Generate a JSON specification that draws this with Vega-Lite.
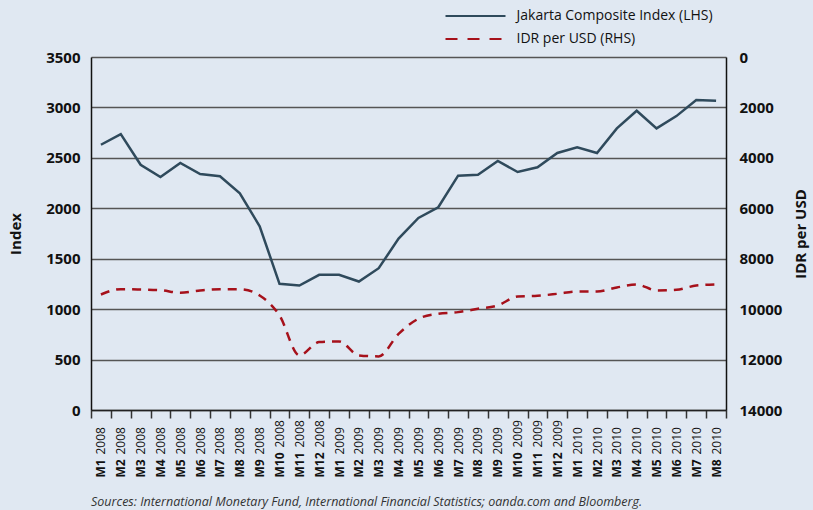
{
  "$schema": "https://vega.github.io/schema/vega-lite/v6.json",
  "width": 635,
  "height": 353,
  "autosize": "none",
  "padding": {"left": 91, "top": 57, "right": 87, "bottom": 100},
  "background": "#e0e8f2",
  "config": {"view": {"stroke": null}, "font": "Open Sans"},
  "title": {
    "text": "Sources: International Monetary Fund, International Financial Statistics; oanda.com and Bloomberg.",
    "orient": "bottom",
    "anchor": "start",
    "frame": "group",
    "fontSize": 12.5,
    "fontStyle": "italic",
    "fontWeight": "normal",
    "color": "#333333",
    "offset": 19
  },
  "data": {
    "values": [
      {"month": "M1 2008", "jci": 2630, "idr": 9418},
      {"month": "M2 2008", "jci": 2736, "idr": 9207},
      {"month": "M3 2008", "jci": 2432, "idr": 9220},
      {"month": "M4 2008", "jci": 2310, "idr": 9247},
      {"month": "M5 2008", "jci": 2449, "idr": 9352},
      {"month": "M6 2008", "jci": 2340, "idr": 9260},
      {"month": "M7 2008", "jci": 2317, "idr": 9207},
      {"month": "M8 2008", "jci": 2149, "idr": 9207},
      {"month": "M9 2008", "jci": 1822, "idr": 9458},
      {"month": "M10 2008", "jci": 1251, "idr": 10250},
      {"month": "M11 2008", "jci": 1234, "idr": 11834},
      {"month": "M12 2008", "jci": 1340, "idr": 11306},
      {"month": "M1 2009", "jci": 1340, "idr": 11280},
      {"month": "M2 2009", "jci": 1274, "idr": 11834},
      {"month": "M3 2009", "jci": 1406, "idr": 11874},
      {"month": "M4 2009", "jci": 1700, "idr": 10980},
      {"month": "M5 2009", "jci": 1904, "idr": 10382},
      {"month": "M6 2009", "jci": 2010, "idr": 10184},
      {"month": "M7 2009", "jci": 2323, "idr": 10118},
      {"month": "M8 2009", "jci": 2333, "idr": 9986},
      {"month": "M9 2009", "jci": 2469, "idr": 9854},
      {"month": "M10 2009", "jci": 2360, "idr": 9498},
      {"month": "M11 2009", "jci": 2406, "idr": 9471},
      {"month": "M12 2009", "jci": 2548, "idr": 9392},
      {"month": "M1 2010", "jci": 2604, "idr": 9300},
      {"month": "M2 2010", "jci": 2548, "idr": 9300},
      {"month": "M3 2010", "jci": 2792, "idr": 9141},
      {"month": "M4 2010", "jci": 2967, "idr": 9022},
      {"month": "M5 2010", "jci": 2792, "idr": 9260},
      {"month": "M6 2010", "jci": 2914, "idr": 9234},
      {"month": "M7 2010", "jci": 3073, "idr": 9062},
      {"month": "M8 2010", "jci": 3066, "idr": 9022}
    ]
  },
  "layer": [
    {
      "mark": {"type": "line", "strokeWidth": 2.5},
      "encoding": {
        "x": {
          "field": "month",
          "type": "ordinal",
          "sort": null,
          "scale": {"type": "band", "paddingInner": 0, "paddingOuter": 0},
          "axis": {
            "orient": "bottom",
            "title": null,
            "grid": false,
            "domain": true,
            "domainColor": "#222222",
            "domainWidth": 1.5,
            "ticks": true,
            "tickBand": "extent",
            "tickSize": 8,
            "tickWidth": 1.5,
            "tickColor": "#333333",
            "labelExpr": "isString(datum.value) ? split(datum.value, ' ')[1] : ''",
            "labelAngle": -90,
            "labelAlign": "left",
            "labelBaseline": "middle",
            "labelFontSize": 12,
            "labelFontWeight": "normal",
            "labelColor": "#111111",
            "labelPadding": {"condition": {"test": "isString(datum.value) && length(split(datum.value, ' ')[0]) > 2", "value": 29}, "value": 36}
          }
        },
        "y": {
          "field": "jci",
          "type": "quantitative",
          "scale": {"domain": [0, 3500], "nice": false},
          "axis": {
            "title": "Index",
            "titleFontSize": 15,
            "titleFontWeight": "bold",
            "titleColor": "#111111",
            "titlePadding": 22,
            "values": [0, 500, 1000, 1500, 2000, 2500, 3000, 3500],
            "format": "d",
            "ticks": false,
            "labelPadding": 11,
            "labelFontSize": 15,
            "labelFontWeight": "bold",
            "labelColor": "#111111",
            "domain": true,
            "domainColor": "#111111",
            "domainWidth": 1.5,
            "grid": true,
            "gridColor": "#555555",
            "gridWidth": 1.5
          }
        },
        "color": {
          "datum": "Jakarta Composite Index (LHS)",
          "scale": {
            "domain": ["Jakarta Composite Index (LHS)", "IDR per USD (RHS)"],
            "range": ["#2f4a5c", "#a6111b"]
          },
          "legend": {
            "title": null,
            "orient": "none",
            "legendX": 373.5,
            "legendY": -52,
            "padding": 0,
            "symbolType": "M-3,0H3",
            "symbolSize": 400,
            "symbolStrokeWidth": 2,
            "symbolFillColor": "transparent",
            "labelOffset": 30,
            "labelLimit": 400,
            "rowPadding": 5,
            "labelFontSize": 14,
            "labelFont": "Open Sans",
            "labelColor": "#111111",
            "encode": {
              "symbols": {
                "update": {
                  "strokeDash": {"signal": "datum.value === 'IDR per USD (RHS)' ? [12, 10] : [1, 0]"}
                }
              }
            }
          }
        }
      }
    },
    {
      "mark": {"type": "line", "strokeWidth": 2.5, "strokeDash": [9, 7], "interpolate": "monotone"},
      "encoding": {
        "x": {
          "field": "month",
          "type": "ordinal",
          "sort": null,
          "scale": {"type": "band", "paddingInner": 0, "paddingOuter": 0},
          "axis": {
            "orient": "bottom",
            "title": null,
            "grid": false,
            "domain": false,
            "ticks": true,
            "tickBand": "extent",
            "tickSize": 8,
            "tickOpacity": 0,
            "labelExpr": "isString(datum.value) ? split(datum.value, ' ')[0] : ''",
            "labelAngle": -90,
            "labelAlign": "left",
            "labelBaseline": "middle",
            "labelFontSize": 12,
            "labelFontWeight": "bold",
            "labelColor": "#111111",
            "labelPadding": 59
          }
        },
        "y": {
          "field": "idr",
          "type": "quantitative",
          "scale": {"domain": [0, 14000], "reverse": true, "nice": false},
          "axis": {
            "orient": "right",
            "title": "IDR per USD",
            "titleAngle": 270,
            "titleBaseline": "bottom",
            "titleFontSize": 15,
            "titleFontWeight": "bold",
            "titleColor": "#111111",
            "titlePadding": 27,
            "values": [0, 2000, 4000, 6000, 8000, 10000, 12000, 14000],
            "format": "d",
            "ticks": false,
            "labelPadding": 13,
            "labelFontSize": 15,
            "labelFontWeight": "bold",
            "labelColor": "#111111",
            "domain": true,
            "domainColor": "#111111",
            "domainWidth": 1.5,
            "grid": false
          }
        },
        "color": {"datum": "IDR per USD (RHS)"}
      }
    }
  ],
  "resolve": {"scale": {"y": "independent"}, "axis": {"x": "independent"}}
}
